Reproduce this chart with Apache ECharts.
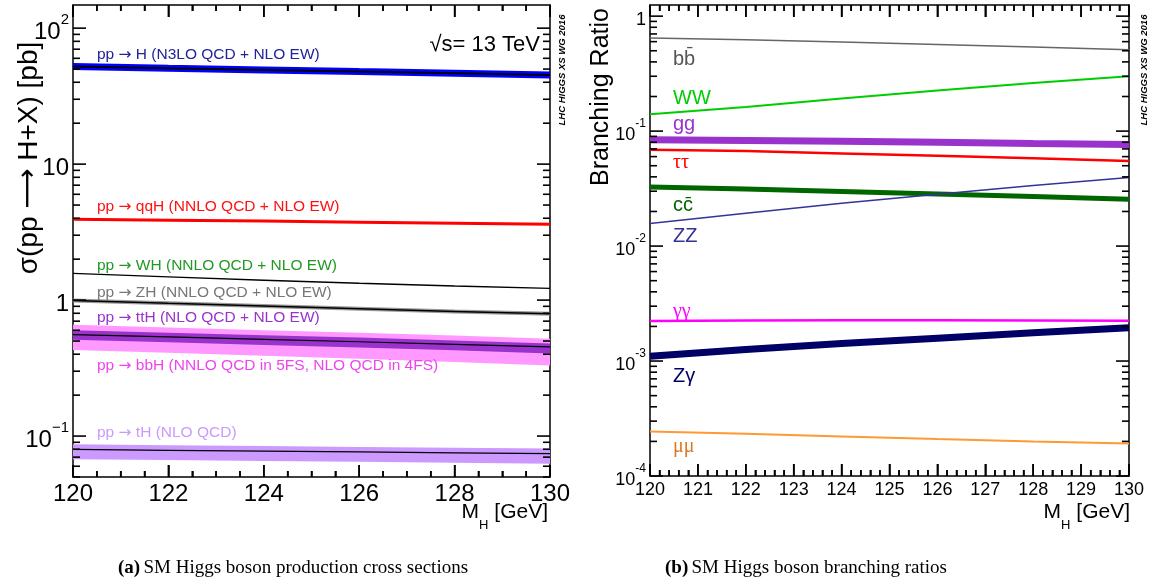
<!DOCTYPE html>
<html><head><meta charset="utf-8">
<script src="https://cdn.jsdelivr.net/npm/echarts@6/dist/echarts.min.js"></script>
<style>html,body{margin:0;padding:0;background:#fff}#c{width:1153px;height:585px}</style>
</head><body><div id="c"></div>
<script>
// ---------- data ----------
const mH = [120, 122, 124, 126, 128, 130];
// left: cross sections [pb]
const xsGGH = [52.2, 50.7, 49.3, 47.9, 46.6, 45.3];
const xsQQH = [3.93, 3.87, 3.81, 3.74, 3.68, 3.62];
const xsWH  = [1.57, 1.48, 1.40, 1.33, 1.27, 1.22];
const xsZH  = [0.995, 0.948, 0.905, 0.864, 0.826, 0.795];
const xsTTH = [0.558, 0.536, 0.515, 0.494, 0.473, 0.453];
const xsTTHhi = [0.600, 0.575, 0.552, 0.530, 0.505, 0.480];
const xsTTHlo = [0.510, 0.490, 0.468, 0.448, 0.428, 0.405];
const xsBBHhi = [0.66, 0.63, 0.60, 0.575, 0.548, 0.52];
const xsBBHlo = [0.43, 0.41, 0.39, 0.37, 0.35, 0.33];
const xsTH  = [0.0798, 0.0786, 0.0775, 0.0764, 0.0753, 0.0742];
const xsTHhi = [0.087, 0.0857, 0.0844, 0.0832, 0.0821, 0.081];
const xsTHlo = [0.0676, 0.0666, 0.0656, 0.0646, 0.0636, 0.0627];
// right: branching ratios
const brBB = [0.645, 0.622, 0.596, 0.568, 0.539, 0.510];
const brWW = [0.140, 0.162, 0.192, 0.226, 0.262, 0.300];
const brGG = [0.084, 0.083, 0.0815, 0.080, 0.078, 0.0765];
const brTT = [0.069, 0.067, 0.064, 0.061, 0.058, 0.055];
const brCC = [0.0326, 0.0313, 0.0299, 0.0284, 0.0270, 0.0256];
const brZZ = [0.0157, 0.0193, 0.0236, 0.0283, 0.0336, 0.0395];
const brAA = [0.00223, 0.00225, 0.00226, 0.00226, 0.00225, 0.00224];
const brZA = [0.00110, 0.00126, 0.00142, 0.00158, 0.00176, 0.00195];
const brMM = [2.44e-4, 2.33e-4, 2.21e-4, 2.10e-4, 2.00e-4, 1.92e-4];
// tick values
const leftMajor = [0.1, 1, 10, 100];
const rightMajor = [1e-4, 1e-3, 1e-2, 0.1, 1];
const leftXMajor = [120, 122, 124, 126, 128, 130];
const rightXMajor = [120, 121, 122, 123, 124, 125, 126, 127, 128, 129, 130];

function minors(lo, hi, min, max) {
  const out = [];
  for (let e = lo; e <= hi; e++) for (let k = 2; k <= 9; k++) {
    const v = k * Math.pow(10, e);
    if (v >= min && v <= max) out.push(v);
  }
  return out;
}
function linMinors(majors, split) {
  const out = [];
  for (let i = 0; i < majors.length - 1; i++) {
    const step = (majors[i + 1] - majors[i]) / split;
    for (let k = 1; k < split; k++) out.push(majors[i] + k * step);
  }
  return out;
}
const leftMinor = minors(-2, 2, 0.05, 148);
const rightMinor = minors(-4, 0, 1e-4, 1.25);
const leftXMinor = linMinors(leftXMajor, 4);
const rightXMinor = linMinors(rightXMajor, 5);

const SANS = 'Liberation Sans';
const ARROWF = 'DejaVu Sans';
function supFmt(minusChar) {
  return function (v) {
    const e = Math.round(Math.log10(v));
    if (e === 0) return '{b|1}';
    if (e === 1) return '{b|10}';
    return '{b|10}{s|' + (e < 0 ? minusChar + (-e) : e) + '}';
  };
}
function richFor(fs, ss) {
  return { b: { fontSize: fs, fontFamily: SANS, color: '#000', lineHeight: fs + 8, verticalAlign: 'bottom' },
           s: { fontSize: ss, fontFamily: SANS, color: '#000', lineHeight: fs + 8, verticalAlign: 'top' } };
}

function ts() { return { color: '#000', width: 1.5 }; }
function xAxes(grid, interval, split, fs) {
  function mk(pos, showLabel) {
    return { type: 'value', gridIndex: grid, min: 120, max: 130, interval: interval, position: pos,
      splitLine: { show: false },
      axisLine: { show: true, onZero: false, lineStyle: { color: '#000', width: 1.5 } },
      axisTick: { show: true, inside: true, length: 12, lineStyle: ts() },
      minorTick: { show: true, splitNumber: split, length: 6, lineStyle: ts() },
      axisLabel: showLabel ? { show: true, fontSize: fs, fontFamily: SANS, color: '#000', margin: 5 } : { show: false } };
  }
  return [mk('bottom', true), mk('top', false)];
}
function yAxes(grid, min, max, major, fs, ss, minusChar) {
  function mk(pos, label) {
    return { type: 'log', logBase: 10, gridIndex: grid, min: min, max: max, position: pos,
      splitLine: { show: false }, minorTick: { show: false },
      axisLine: { show: true, onZero: false, lineStyle: { color: '#000', width: 1.5 } },
      axisTick: { show: false },
      axisLabel: label ? { show: true, customValues: major.slice(), formatter: supFmt(minusChar), rich: richFor(fs, ss), margin: 4 } : { show: false } };
  }
  return [mk('left', true), mk('right', false)];
}

function line(xi, yi, ys, color, width, z) {
  return { type: 'line', xAxisIndex: xi, yAxisIndex: yi, data: mH.map((x, i) => [x, ys[i]]),
    showSymbol: false, symbol: 'none', silent: true, z: z || 3,
    lineStyle: { color: color, width: width, cap: 'butt' } };
}
function band(xi, yi, lo, hi, color, z) {
  return { type: 'custom', xAxisIndex: xi, yAxisIndex: yi, data: [[125, lo[0]]], silent: true, z: z || 2,
    renderItem: function (params, api) {
      const pts = [];
      for (let i = 0; i < mH.length; i++) pts.push(api.coord([mH[i], hi[i]]));
      for (let i = mH.length - 1; i >= 0; i--) pts.push(api.coord([mH[i], lo[i]]));
      return { type: 'polygon', shape: { points: pts }, style: { fill: color } };
    } };
}
// frame ticks placed through the axes' own scales
function ticks(xi, yi, xMaj, xMin, yMaj, yMin, xlo, xhi, ylo, yhi) {
  return { type: 'custom', xAxisIndex: xi, yAxisIndex: yi, data: [[125, ylo]], silent: true, z: 20, clip: false,
    renderItem: function (params, api) {
      const ch = [];
      const seg = (x1, y1, x2, y2) => ch.push({ type: 'line', shape: { x1: x1, y1: y1, x2: x2, y2: y2 },
        style: { stroke: '#000', lineWidth: 1.6 } });
      const xt = (v, L) => { const b = api.coord([v, ylo]), t = api.coord([v, yhi]);
        seg(b[0], b[1], b[0], b[1] - L); seg(t[0], t[1], t[0], t[1] + L); };
      const yt = (v, L) => { const l = api.coord([xlo, v]), r = api.coord([xhi, v]);
        seg(l[0], l[1], l[0] + L, l[1]); seg(r[0], r[1], r[0] - L, r[1]); };
      xMaj.forEach(v => xt(v, 12)); xMin.forEach(v => xt(v, 6));
      yMaj.forEach(v => yt(v, 13)); yMin.forEach(v => yt(v, 7));
      return { type: 'group', children: ch };
    } };
}

const series = [
  band(0, 0, xsBBHlo, xsBBHhi, '#ff99ff', 2),
  band(0, 0, xsTTHlo, xsTTHhi, '#9933cc', 3),
  line(0, 0, xsTTH, '#000', 1.2, 4),
  band(0, 0, xsTHlo, xsTHhi, '#cc99ff', 2),
  line(0, 0, xsTH, '#000', 1.2, 4),
  line(0, 0, xsGGH, '#0000ff', 7, 3),
  line(0, 0, xsGGH, '#000', 2, 4),
  line(0, 0, xsQQH, '#ff0000', 3, 3),
  line(0, 0, xsWH, '#000', 1.3, 4),
  line(0, 0, xsZH, '#999', 4, 3),
  line(0, 0, xsZH, '#000', 1.5, 4),
  line(2, 2, brBB, '#666', 1.5),
  line(2, 2, brWW, '#00cc00', 2),
  line(2, 2, brGG, '#9933cc', 7),
  line(2, 2, brTT, '#ff0000', 2.5),
  line(2, 2, brCC, '#006600', 5),
  line(2, 2, brZZ, '#333399', 1.5),
  line(2, 2, brAA, '#ff00ff', 2.5),
  line(2, 2, brZA, '#000066', 7),
  line(2, 2, brMM, '#ff9933', 2),
  ticks(0, 0, leftXMajor, leftXMinor, leftMajor, leftMinor, 120, 130, 0.05, 148),
  ticks(2, 2, rightXMajor, rightXMinor, rightMajor, rightMinor, 120, 130, 1e-4, 1.25)
];

function ann(y, rest, color) {
  const fs = 15.5;
  return { type: 'text', x: 97, y: y, silent: true, z: 50,
    style: { text: '{t|pp }{a|\u2192}{t| ' + rest + '}', verticalAlign: 'middle', align: 'left',
      rich: { t: { fontSize: fs, fontFamily: SANS, fill: color, lineHeight: 18 },
              a: { fontSize: fs, fontFamily: ARROWF, fill: color, lineHeight: 18 } } } };
}
function lab(y, text, color, fam, fs) {
  return { type: 'text', x: 673, y: y, silent: true, z: 50,
    style: { text: text, fill: color, fontSize: fs || 20, fontFamily: fam || SANS, align: 'left', verticalAlign: 'middle' } };
}
function mhTitle() { return { m: { fontSize: 21, fontFamily: SANS, fill: '#000', lineHeight: 30, verticalAlign: 'top' },
                  h: { fontSize: 13, fontFamily: SANS, fill: '#000', lineHeight: 30, verticalAlign: 'bottom' } }; }
function wm() { return { text: 'LHC HIGGS XS WG 2016', fontSize: 9.5, fontWeight: 'bold', fontStyle: 'italic', fontFamily: SANS, fill: '#000', align: 'center', verticalAlign: 'middle' }; }
function capRich() { return { b: { fontSize: 19, fontWeight: 'bold', fontFamily: 'Liberation Serif', fill: '#000' },
                  n: { fontSize: 19, fontFamily: 'Liberation Serif', fill: '#000' } }; }

const graphics = [
  ann(55, 'H (N3LO QCD + NLO EW)', '#22229a'),
  ann(207, 'qqH (NNLO QCD + NLO EW)', '#ff1111'),
  ann(266, 'WH (NNLO QCD + NLO EW)', '#229922'),
  ann(293, 'ZH (NNLO QCD + NLO EW)', '#777777'),
  ann(318, 'ttH (NLO QCD + NLO EW)', '#9933cc'),
  ann(366, 'bbH (NNLO QCD in 5FS, NLO QCD in 4FS)', '#ee44ee'),
  ann(433, 'tH (NLO QCD)', '#cc99ff'),
  { type: 'text', x: 540, y: 45, silent: true, z: 50,
    style: { text: '\u221As= 13 TeV', fill: '#000', fontSize: 22, fontFamily: SANS, align: 'right', verticalAlign: 'middle' } },
  lab(59, 'bb\u0304', '#555'),
  lab(98, 'WW', '#00cc00'),
  lab(124, 'gg', '#9933cc'),
  lab(163, '\u03c4\u03c4', '#ff0000', 'Liberation Serif'),
  lab(205, 'cc\u0304', '#006600'),
  lab(236, 'ZZ', '#333399'),
  lab(312, '\u03b3\u03b3', '#ff00ff', 'Liberation Serif'),
  lab(376, 'Z\u03b3', '#000066'),
  lab(447, '\u03bc\u03bc', '#dd7722', 'Liberation Serif'),
  { type: 'text', x: 29, y: 158, rotation: Math.PI / 2, silent: true,
    style: { text: '{t|\u03c3(pp }{a|\u27f6}{t| H+X) [pb]}', align: 'center', verticalAlign: 'middle',
      rich: { t: { fontSize: 28, fontFamily: SANS, fill: '#000', lineHeight: 32 },
              a: { fontSize: 28, fontFamily: ARROWF, fill: '#000', lineHeight: 32 } } } },
  { type: 'text', x: 601, y: 97, rotation: Math.PI / 2, silent: true,
    style: { text: 'Branching Ratio', fontSize: 25, fontFamily: SANS, fill: '#000', align: 'center', verticalAlign: 'middle' } },
  { type: 'text', x: 548, y: 517, silent: true,
    style: { text: '{m|M}{h|H}{m| [GeV]}', align: 'right', verticalAlign: 'middle', rich: mhTitle() } },
  { type: 'text', x: 1130, y: 517, silent: true,
    style: { text: '{m|M}{h|H}{m| [GeV]}', align: 'right', verticalAlign: 'middle', rich: mhTitle() } },
  { type: 'text', x: 562, y: 70, rotation: Math.PI / 2, silent: true, style: wm() },
  { type: 'text', x: 1144, y: 70, rotation: Math.PI / 2, silent: true, style: wm() },
  { type: 'text', x: 118, y: 568, silent: true,
    style: { text: '{b|(a)} {n|SM Higgs boson production cross sections}', verticalAlign: 'middle', rich: capRich() } },
  { type: 'text', x: 665, y: 568, silent: true,
    style: { text: '{b|(b)} {n|SM Higgs boson branching ratios}', verticalAlign: 'middle', rich: capRich() } }
];

const option = {
  animation: false,
  backgroundColor: '#fff',
  grid: [
    { left: 73, top: 5, width: 477, height: 472 },
    { left: 650, top: 5, width: 479, height: 471 }
  ],
  xAxis: [].concat(xAxes(0, 2, 4, 24), xAxes(1, 1, 5, 18)),
  yAxis: [].concat(yAxes(0, 0.05, 148, leftMajor, 24, 15, '\u2212'),
                   yAxes(1, 1e-4, 1.25, rightMajor, 18, 12, '-')),
  series: series,
  graphic: graphics
};
const chart = echarts.init(document.getElementById('c'), null, { renderer: 'canvas' });
chart.setOption(option);
</script></body></html>
